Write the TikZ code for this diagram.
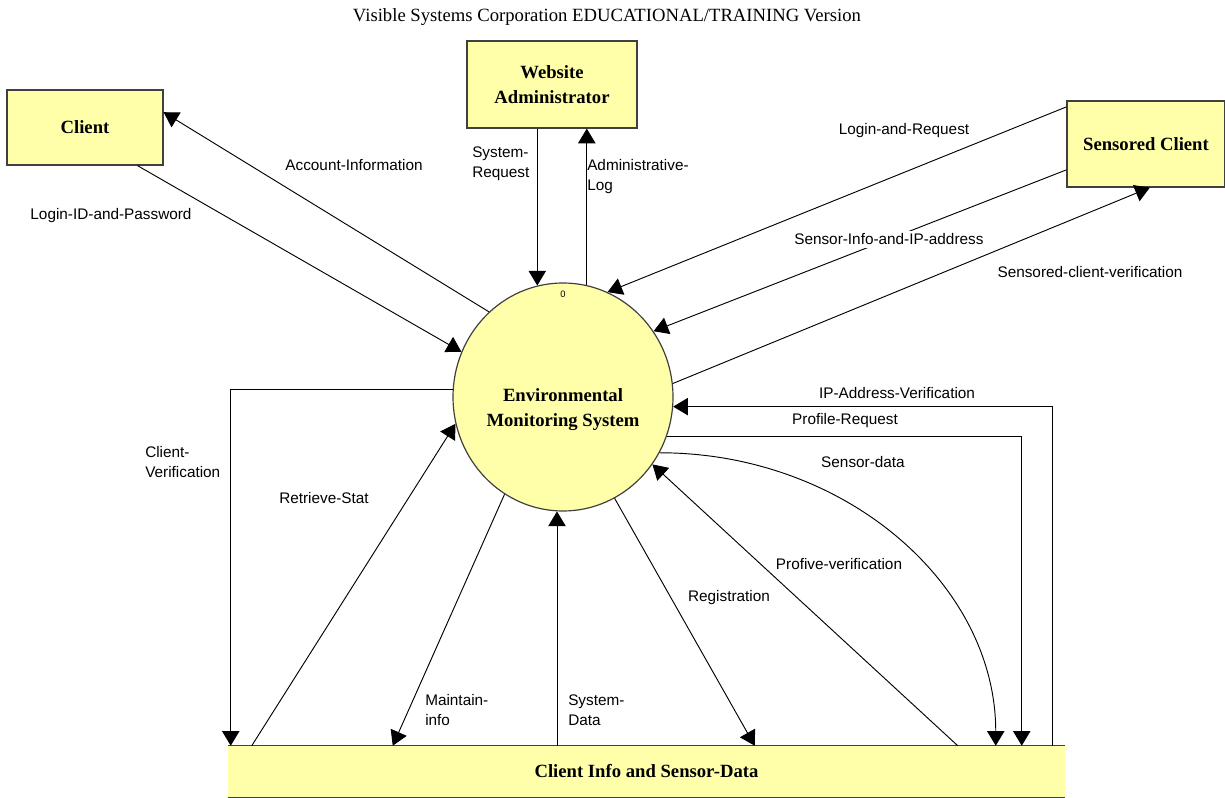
\documentclass[tikz,border=0pt]{standalone}
\usepackage{fontspec}
\setmainfont{Liberation Serif}
\setsansfont{Liberation Sans}
\usetikzlibrary{arrows.meta,shapes.geometric,calc}
\definecolor{yel}{RGB}{255,255,170}
\definecolor{edgegray}{RGB}{64,64,64}
\begin{document}
\begin{tikzpicture}[x=0.75pt,y=-0.75pt,
 entity/.style={draw=edgegray,line width=0.9pt,fill=yel,inner sep=0pt,align=center,font=\fontsize{14}{18.75}\selectfont\bfseries},
 flow/.style={draw=black,line width=0.7pt,-{Triangle[length=11pt,width=13pt]}},
 lbl/.style={inner sep=0pt,align=left,font=\sffamily\fontsize{11.5}{15}\selectfont},
 storeline/.style={draw=edgegray,line width=0.9pt},
]
\useasboundingbox (0,0) rectangle (1225,798);

\node[font=\fontsize{14}{16}\selectfont] (title) at (607,17) {Visible Systems Corporation EDUCATIONAL/TRAINING Version};

\node[entity,minimum width=117pt,minimum height=56.25pt] (client) at (85,127.5) {Client};
\node[entity,minimum width=127.5pt,minimum height=65.25pt] (admin) at (552,84.5) {Website\\Administrator};
\node[entity,minimum width=118.5pt,minimum height=64.5pt] (sc) at (1146,144) {Sensored Client};
\node[ellipse,draw=edgegray,line width=0.9pt,fill=yel,minimum width=165pt,minimum height=171pt,inner sep=0pt] (ems) at (563,397) {};
\node[inner sep=0pt,align=center,font=\fontsize{14}{18.75}\selectfont\bfseries] (emst) at (563,410) {Environmental\\Monitoring System};
\node[inner sep=0pt,font=\sffamily\fontsize{7}{8}\selectfont] (num) at (563,294) {0};
\node[fill=yel,minimum width=627.75pt,minimum height=38.25pt,inner sep=0pt,font=\fontsize{14}{16}\selectfont\bfseries] (store) at (646.5,771.5) {Client Info and Sensor-Data};
\draw[storeline] (store.north west) -- (store.north east);
\draw[storeline] (store.south west) -- (store.south east);

% flows
\draw[flow] (ems.131.1) -- (client.11);
\draw[flow] (client.-36.9) -- (ems.156.2);
\draw[flow] (ems.103.2 |- admin.south) -- (ems.103.2);
\draw[flow] (ems.78.86) -- (ems.78.86 |- admin.south);
\draw[flow] (sc.155.2) -- (ems.67);
\draw[flow] (sc.198.4) -- node[pos=0.43,lbl,fill=white,inner sep=2pt] {Sensor-Info-and-IP-address} (ems.36.9);
\draw[flow] (ems.7.3) -- (sc.-85);
\draw[flow] ($(store.north west)+(825,0)$) |- (ems.-5.2);
\draw[flow] (ems.-21.8) -| ($(store.north west)+(794,0)$);
\draw[flow] (ems.-30.9) .. controls +(186,0) and +(0,-161) .. ($(store.north west)+(768,0)$);
\draw[flow] ($(store.north west)+(730,0)$) -- (ems.-37.4);
\draw[flow] (ems.-63.2) -- ($(store.north west)+(527,0)$);
\draw[flow] (ems.-93.5 |- store.north) -- (ems.-93.5);
\draw[flow] (ems.-121.5) -- ($(store.north west)+(165,0)$);
\draw[flow] ($(store.north west)+(24,0)$) -- (ems.194.5);
\draw[flow] (ems.176.4) -| ($(store.north west)+(3,0)$);

% labels
\node[lbl] (l1) at (354,165) {Account-Information};
\node[lbl] (l2) at (111,216) {Login-ID-and-Password};
\node[lbl,anchor=west] (l3) at (472,164) {System-\\Request};
\node[lbl,anchor=west] (l4) at (587,177) {Administrative-\\Log};
\node[lbl] (l5) at (904,131) {Login-and-Request};
\node[lbl] (l6) at (1090,272) {Sensored-client-verification};
\node[lbl] (l7) at (897,393) {IP-Address-Verification};
\node[lbl] (l8) at (845,421) {Profile-Request};
\node[lbl] (l9) at (863,462) {Sensor-data};
\node[lbl] (l10) at (839,564) {Profive-verification};
\node[lbl] (l11) at (729,598) {Registration};
\node[lbl,anchor=west] (l12) at (568,710) {System-\\Data};
\node[lbl,anchor=west] (l13) at (425,710) {Maintain-\\info};
\node[lbl] (l14) at (324,498) {Retrieve-Stat};
\node[lbl,anchor=west] (l15) at (145,462) {Client-\\Verification};
\end{tikzpicture}
\end{document}
